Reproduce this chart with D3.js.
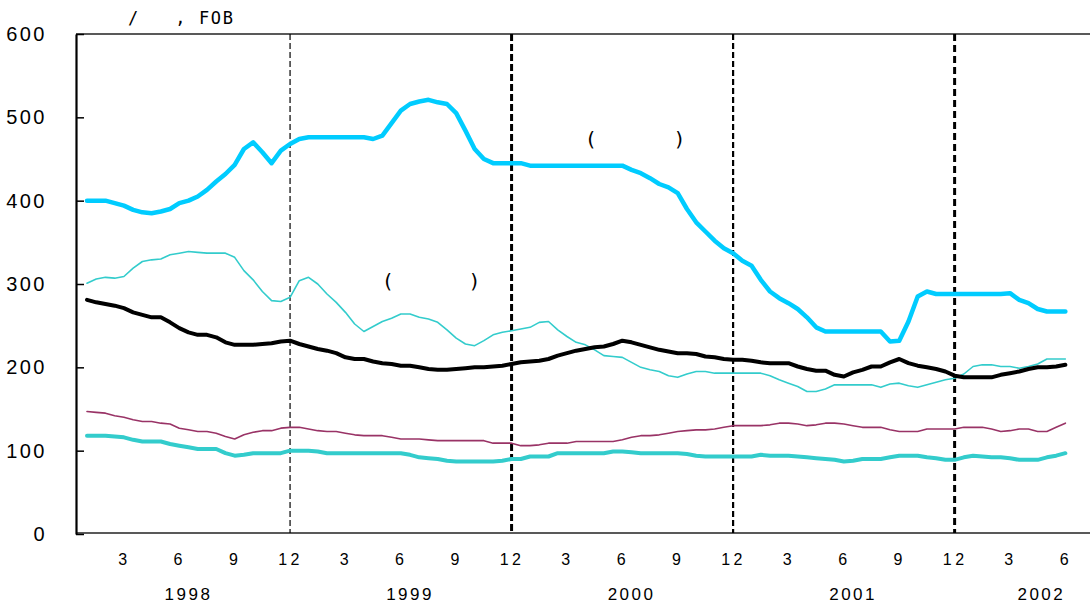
<!DOCTYPE html>
<html>
<head>
<meta charset="utf-8">
<script src="https://cdn.jsdelivr.net/npm/d3@7"></script>
<style>
  html, body { margin: 0; padding: 0; background: #fff; }
  svg { display: block; font-family: "Liberation Sans", Arial, sans-serif; }
</style>
</head>
<body>
<svg id="chart" width="1090" height="605"></svg>
<script>
// ---- data (half-month steps, Jan 1998 .. Jun 2002) ----
const months = d3.range(0, 53.5, 0.5); // 0 = Jan 1998

const seriesBlue = [
  400,400,400,397,394,389,386,385,387,390,
  397,400,405,413,423,432,443,462,470,458,
  445,460,468,474,476,476,476,476,476,476,
  476,474,478,493,508,516,519,521,518,516,
  505,484,462,450,445,445,445,445,442,442,
  442,442,442,442,442,442,442,442,442,437,
  433,427,420,416,409,390,374,363,352,343,
  337,328,322,305,291,283,277,270,260,248,
  243,243,243,243,243,243,243,231,232,255,
  285,291,288,288,288,288,288,288,288,288,
  289,281,277,270,267,267,267
];
const seriesThinTeal = [
  301,306,308,307,309,319,327,329,330,335,
  337,339,338,337,337,337,332,316,305,291,
  280,279,284,304,308,300,288,278,266,252,
  243,249,255,259,264,264,260,258,254,245,
  235,228,226,232,239,242,244,246,248,254,
  255,245,237,230,227,221,214,213,212,206,
  200,197,195,190,188,192,195,195,193,193,
  193,193,193,193,190,185,181,177,171,171,
  174,179,179,179,179,179,176,180,181,178,
  176,179,182,185,187,192,201,203,203,201,
  201,199,201,204,210,210,210
];
const seriesBlack = [
  281,278,276,274,271,266,263,260,260,254,
  247,242,239,239,236,230,227,227,227,228,
  229,231,232,228,225,222,220,217,212,210,
  210,207,205,204,202,202,200,198,197,197,
  198,199,200,200,201,202,204,206,207,208,
  210,214,217,220,222,224,225,228,232,230,
  227,224,221,219,217,217,216,213,212,210,
  209,209,208,206,205,205,205,201,198,196,
  196,191,189,194,197,201,201,206,210,205,
  202,200,198,195,190,188,188,188,188,191,
  193,195,198,200,200,201,203
];
const seriesMaroon = [
  147,146,145,142,140,137,135,135,133,132,
  127,125,123,123,121,117,114,119,122,124,
  124,127,128,128,126,124,123,123,121,119,
  118,118,118,116,114,114,114,113,112,112,
  112,112,112,112,109,109,109,106,106,107,
  109,109,109,111,111,111,111,111,113,116,
  118,118,119,121,123,124,125,125,126,128,
  130,130,130,130,131,133,133,132,130,131,
  133,133,132,130,128,128,128,125,123,123,
  123,126,126,126,126,128,128,128,126,123,
  124,126,126,123,123,128,133
];
const seriesThickTeal = [
  118,118,118,117,116,113,111,111,111,108,
  106,104,102,102,102,97,94,95,97,97,
  97,97,100,100,100,99,97,97,97,97,
  97,97,97,97,97,95,92,91,90,88,
  87,87,87,87,87,88,90,90,93,93,
  93,97,97,97,97,97,97,99,99,98,
  97,97,97,97,97,96,94,93,93,93,
  93,93,93,95,94,94,94,93,92,91,
  90,89,87,88,90,90,90,92,94,94,
  94,92,91,89,89,92,94,93,92,92,
  91,89,89,89,92,94,97
];

const yTicks = [0, 100, 200, 300, 400, 500, 600];
const monthTicks = [2,5,8,11, 14,17,20,23, 26,29,32,35, 38,41,44,47, 50,53]; // month index
const monthLabel = m => String((m % 12) + 1);
const years = ["1998", "1999", "2000", "2001", "2002"];
const yearPos = [5.5, 17.5, 29.5, 41.5, 51.7];
const yearEnds = [11, 23, 35, 47]; // December markers
const titleText = "/   , FOB";

// ---- scales ----
const svg = d3.select("#chart");
const x = d3.scaleLinear().domain([0, 53]).range([87, 87 + 53 * 18.46]);
const y = d3.scaleLinear().domain([0, 600]).range([534, 34]);
const left = 76, right = 1090;
const SANS = "'Liberation Sans', Arial, sans-serif";

// frame
svg.append("line").attr("x1", left).attr("x2", right).attr("y1", y(600)).attr("y2", y(600))
  .attr("stroke", "#222").attr("stroke-width", 1.6);
svg.append("line").attr("x1", left).attr("x2", right).attr("y1", y(0) - 1).attr("y2", y(0) - 1)
  .attr("stroke", "#222").attr("stroke-width", 1.6);

// y axis
const yAxis = d3.axisLeft(y).tickValues(yTicks).tickSizeInner(-8).tickSizeOuter(0).tickPadding(29);
const gy = svg.append("g").attr("transform", `translate(${left},0)`).call(yAxis);
gy.attr("font-family", null).attr("font-size", null);
gy.select(".domain").attr("stroke", "#000").attr("stroke-width", 2.2);
gy.selectAll(".tick line").attr("stroke", "#000").attr("stroke-width", 1.5);
gy.selectAll(".tick text").style("font-size", "20px").style("letter-spacing", "2.5px")
  .style("font-family", SANS).attr("fill", "#000");

// x axis month labels
const xAxis = d3.axisBottom(x).tickValues(monthTicks).tickFormat(monthLabel).tickSize(0).tickPadding(20);
const gx = svg.append("g").attr("transform", `translate(0,${y(0)})`).call(xAxis);
gx.attr("font-family", null).attr("font-size", null);
gx.select(".domain").remove();
gx.selectAll(".tick text").style("font-size", "16px").style("letter-spacing", "3.5px")
  .style("font-family", SANS).attr("fill", "#000");

// year labels
svg.selectAll("text.year").data(years).join("text").attr("class", "year")
  .attr("x", (d, i) => x(yearPos[i])).attr("y", 600)
  .attr("text-anchor", "middle").style("font-size", "17px").style("letter-spacing", "2.5px")
  .style("font-family", SANS)
  .text(d => d);

// title
svg.append("text").attr("x", 128).attr("y", 24)
  .style("font-family", "'DejaVu Sans Mono', monospace").style("font-size", "17px")
  .style("letter-spacing", "1.6px").style("white-space", "pre").text(titleText);

// December dashed markers
const markerStyle = [
  { w: 1.2, dash: "6,3" },
  { w: 3, dash: "7,3" },
  { w: 2.2, dash: "6,3" },
  { w: 3, dash: "7,4" }
];
svg.selectAll("line.dec").data(yearEnds).join("line").attr("class", "dec")
  .attr("x1", d => x(d)).attr("x2", d => x(d))
  .attr("y1", y(600)).attr("y2", y(0) - 1)
  .attr("stroke", "#000")
  .attr("stroke-width", (d, i) => markerStyle[i].w)
  .attr("stroke-dasharray", (d, i) => markerStyle[i].dash);

// lines
const lineGen = vals => d3.line().x((d, i) => x(months[i])).y(d => y(d))(vals);
const seriesDefs = [
  { vals: seriesThickTeal, color: "#33CCCC", w: 4 },
  { vals: seriesMaroon, color: "#993366", w: 1.6 },
  { vals: seriesThinTeal, color: "#33CCCC", w: 1.6 },
  { vals: seriesBlack, color: "#000000", w: 4 },
  { vals: seriesBlue, color: "#00CCFF", w: 4.5 }
];
svg.selectAll("path.series").data(seriesDefs).join("path").attr("class", "series")
  .attr("d", d => lineGen(d.vals))
  .attr("fill", "none").attr("stroke", d => d.color).attr("stroke-width", d => d.w)
  .attr("stroke-linejoin", "round").attr("stroke-linecap", "round");

// annotations (labels whose glyphs are blank in the original)
const notes = [
  { m: 27.1, v: 466, gap: 88 },
  { m: 16.1, v: 295, gap: 86 }
];
notes.forEach(n => {
  const t = svg.append("text").attr("x", x(n.m)).attr("y", y(n.v))
    .style("font-size", "20px").style("font-family", "'DejaVu Sans', sans-serif");
  t.append("tspan").text("(");
  t.append("tspan").attr("x", x(n.m) + n.gap).text(")");
});
</script>
</body>
</html>
